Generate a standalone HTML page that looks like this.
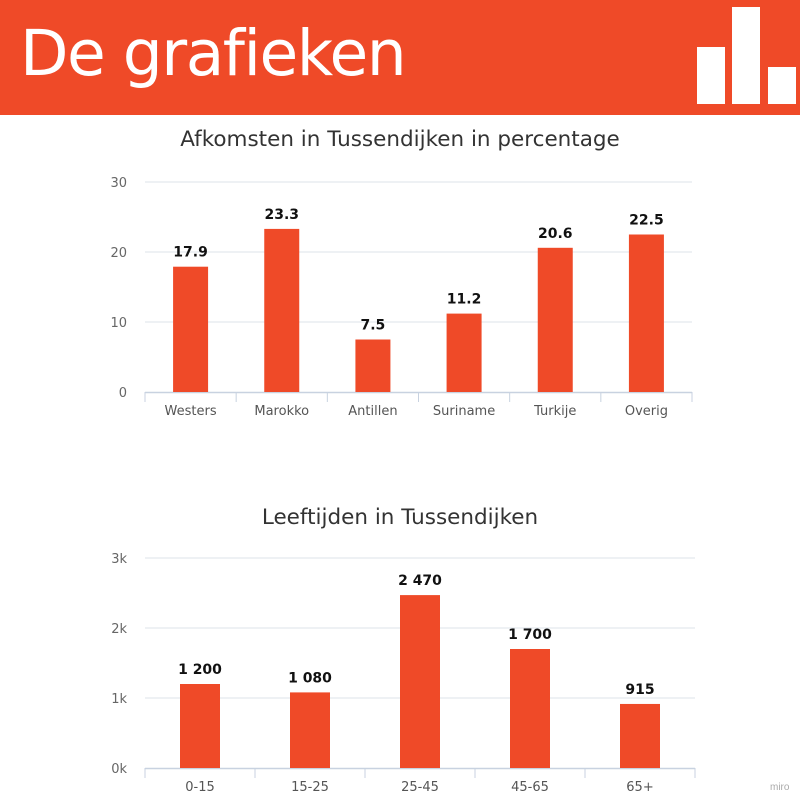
<!DOCTYPE html>
<html><head><meta charset="utf-8"><style>
body{margin:0;width:800px;height:800px;background:#fff;overflow:hidden;font-family:"Liberation Sans",sans-serif;position:relative}
#hdr{position:absolute;left:0;top:0;width:800px;height:115px;background:#ef4a28}
#hdr h1{position:absolute;left:20px;top:17px;margin:0;font-weight:normal;color:#fff;font-size:63px;font-family:"DejaVu Sans","Liberation Sans",sans-serif;letter-spacing:-1.5px}
.lb{position:absolute;background:#fff}
svg{position:absolute;left:0;top:0}
</style></head><body>
<div id="hdr">
<h1>De grafieken</h1>
<div class="lb" style="left:697px;top:47px;width:28px;height:57px"></div>
<div class="lb" style="left:732px;top:7px;width:28px;height:97px"></div>
<div class="lb" style="left:768px;top:67px;width:28px;height:37px"></div>
</div>
<svg id="c" width="800" height="800"></svg>
<script>
const cats1=["Westers","Marokko","Antillen","Suriname","Turkije","Overig"];
const vals1=[17.9,23.3,7.5,11.2,20.6,22.5];
const labels1=["17.9","23.3","7.5","11.2","20.6","22.5"];
const ticks1=[0,10,20,30];
const tickLabels1=["0","10","20","30"];
const cats2=["0-15","15-25","25-45","45-65","65+"];
const vals2=[1200,1080,2470,1700,915];
const labels2=["1 200","1 080","2 470","1 700","915"];
const ticks2=[0,1000,2000,3000];
const tickLabels2=["0k","1k","2k","3k"];
const svg=document.getElementById('c');
const NS="http://www.w3.org/2000/svg";
function mk(t,a,txt){const e=document.createElementNS(NS,t);for(const k in a)e.setAttribute(k,a[k]);if(txt!=null)e.textContent=txt;svg.appendChild(e);return e;}
function chart(o){
 const x0=145,x1=o.x1,y0=o.y0,max=o.max,h=210;
 const y=v=>y0-v/max*h;
 const bw=(x1-x0)/o.cats.length;
 const t=mk('text',{x:400,y:o.ty,'text-anchor':'middle','font-size':o.tf,fill:'#333','font-family':'DejaVu Sans, sans-serif'},o.title);
 
 
 o.ticks.forEach((v,i)=>{
  if(v>0){const g=mk('line',{x1:x0,x2:x1,y1:y(v),y2:y(v),stroke:'#dde3ea','stroke-width':1});
  
  }
  const l=mk('text',{x:127,y:y(v)+5,'text-anchor':'end','font-size':13,fill:'#666','font-family':'DejaVu Sans, sans-serif'},o.tl[i]);
  
  
 });
 const ax=mk('line',{x1:x0,x2:x1,y1:y0+0.5,y2:y0+0.5,stroke:'#c8d2e0','stroke-width':1.5});
 
 
 for(let i=0;i<=o.cats.length;i++){const tk=mk('line',{x1:x0+i*bw,x2:x0+i*bw,y1:y0,y2:y0+10,stroke:'#c8d2e0'});
  
  }
 o.cats.forEach((c,i)=>{
  const cx=x0+bw*(i+0.5);
  const r=mk('rect',{x:cx-o.w/2,y:y(o.vals[i]),width:o.w,height:y0-y(o.vals[i]),fill:'#ef4a28'});
  
  
  const v=mk('text',{x:cx,y:y(o.vals[i])-10,'text-anchor':'middle','font-size':14,'font-weight':'bold',fill:'#111','font-family':'DejaVu Sans, sans-serif'},o.labels[i]);
  
  
  const cl=mk('text',{x:cx,y:y0+23,'text-anchor':'middle','font-size':13,fill:'#555','font-family':'DejaVu Sans, sans-serif'},c);
  
  
 });
}
chart({name:'afkomsten',title:'Afkomsten in Tussendijken in percentage',ty:146,tf:21.5,x1:692,y0:392,max:30,cats:cats1,vals:vals1,labels:labels1,ticks:ticks1,tl:tickLabels1,w:35});
chart({name:'leeftijden',title:'Leeftijden in Tussendijken',ty:524,tf:21.5,x1:695,y0:768,max:3000,cats:cats2,vals:vals2,labels:labels2,ticks:ticks2,tl:tickLabels2,w:40});
const m=mk('text',{x:770,y:790,'font-size':10,fill:'#aaa'},'miro');


</script>
</body></html>
